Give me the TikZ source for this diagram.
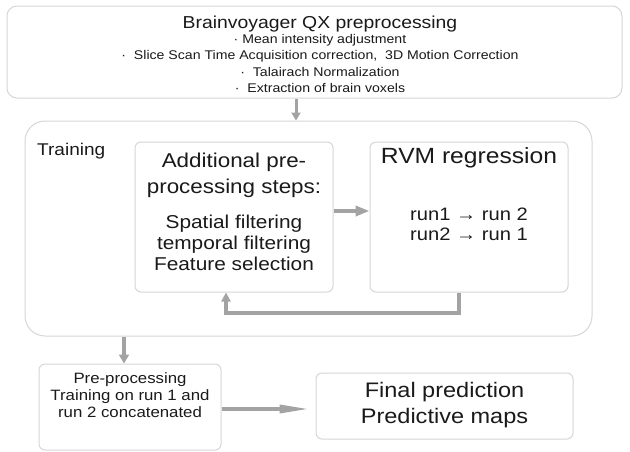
\documentclass[tikz,border=0pt]{standalone}
\usepackage{fontspec}
\setmainfont[FakeStretch=1.12]{Liberation Sans}
\usepackage{tikz}
\usetikzlibrary{arrows.meta, positioning, calc}
\definecolor{boxline}{HTML}{D6D6D6}
\definecolor{arrowgrey}{HTML}{A3A3A3}
\definecolor{textblack}{HTML}{1A1A1A}

\tikzset{
  panel/.style={draw=boxline, line width=1pt, fill=white, rounded corners=#1,
    inner sep=0pt},
  panel/.default=6pt,
  txt/.style={text=textblack, inner sep=0pt, anchor=base, align=center},
  flow/.style={draw=arrowgrey, line width=3.5pt},
}
\newcommand{\fs}[1]{\fontsize{#1}{#1}\selectfont}

\begin{document}
\begin{tikzpicture}[x=1pt, y=-1pt]
  \useasboundingbox (0,0) rectangle (630,451);
  % boxes
  \node[panel=10pt, minimum width=615pt, minimum height=92pt] (prep) at (314.5,52) {};
  \node[panel=20pt, minimum width=567pt, minimum height=215pt] (train) at (308.5,228.5) {};
  \node[panel, minimum width=198pt, minimum height=150pt] (addl) at (234,217) {};
  \node[panel, minimum width=198pt, minimum height=150pt] (rvm) at (469,217) {};
  \node[panel, minimum width=182pt, minimum height=86pt] (final1) at (130,407) {};
  \node[panel, minimum width=257pt, minimum height=66pt] (pred) at (444.5,406) {};

  % top box text (base anchor = last line)
  \node[txt, font=\fs{17.3}] (prephead) at (320,28) {Brainvoyager QX preprocessing};
  \foreach \t [count=\i] in {{· Mean intensity adjustment},
      {·\ \ Slice Scan Time Acquisition correction,\ \ 3D Motion Correction},
      {·\ \ Talairach Normalization},
      {·\ \ Extraction of brain voxels}}
    \node[txt, font=\fs{12.6}] (prep\i) at (320,{26.5+16.6*\i}) {\t};

  % training
  \node[txt, font=\fs{17}, anchor=base west] (trainlbl) at (37,155) {Training};
  \node[txt, font=\fontsize{20}{26}\selectfont] (addlhead) at (234,193)
    {Additional pre-\\processing steps:};
  \node[txt, font=\fontsize{18.6}{21}\selectfont] (addlbody) at (234,270)
    {Spatial filtering\\temporal filtering\\Feature selection};
  \node[txt, font=\fs{22}] (rvmhead) at (469,163) {RVM regression};
  \node[txt, font=\fontsize{18}{20}\selectfont] (rvmbody) at (469,240)
    {run1 → run 2\\run2 → run 1};

  % bottom row
  \node[txt, font=\fontsize{15}{17}\selectfont] (finaltxt) at (130,417)
    {Pre-processing\\Training on run 1 and\\run 2 concatenated};
  \node[txt, font=\fontsize{21}{26}\selectfont] (predtxt) at (444.5,423)
    {Final prediction\\Predictive maps};

  % arrows
  \coordinate (c1) at (296,0);
  \coordinate (c2) at (124,0);
  \coordinate (c3) at (226,0);
  \coordinate (c4) at (459,0);
  \draw[flow, line width=3pt, -{Triangle[length=8pt,width=9pt]}]
    (prep.south -| c1) -- (train.north -| c1);
  \draw[flow, -{Triangle[length=14pt,width=10pt]}]
    (addl.east |- 0,211) -- (rvm.west |- 0,211);
  \draw[flow, -{Triangle[length=9pt,width=9pt]}]
    (rvm.south -| c4) |- (c3 |- 0,313) -- (addl.south -| c3);
  \draw[flow, -{Triangle[length=9pt,width=10pt]}]
    (train.south -| c2) -- (final1.north -| c2);
  \draw[flow, -{Triangle[length=30pt,width=8pt]}]
    (final1.east |- 0,409) -- ([xshift=-6pt]pred.west |- 0,409);
\end{tikzpicture}
\end{document}
